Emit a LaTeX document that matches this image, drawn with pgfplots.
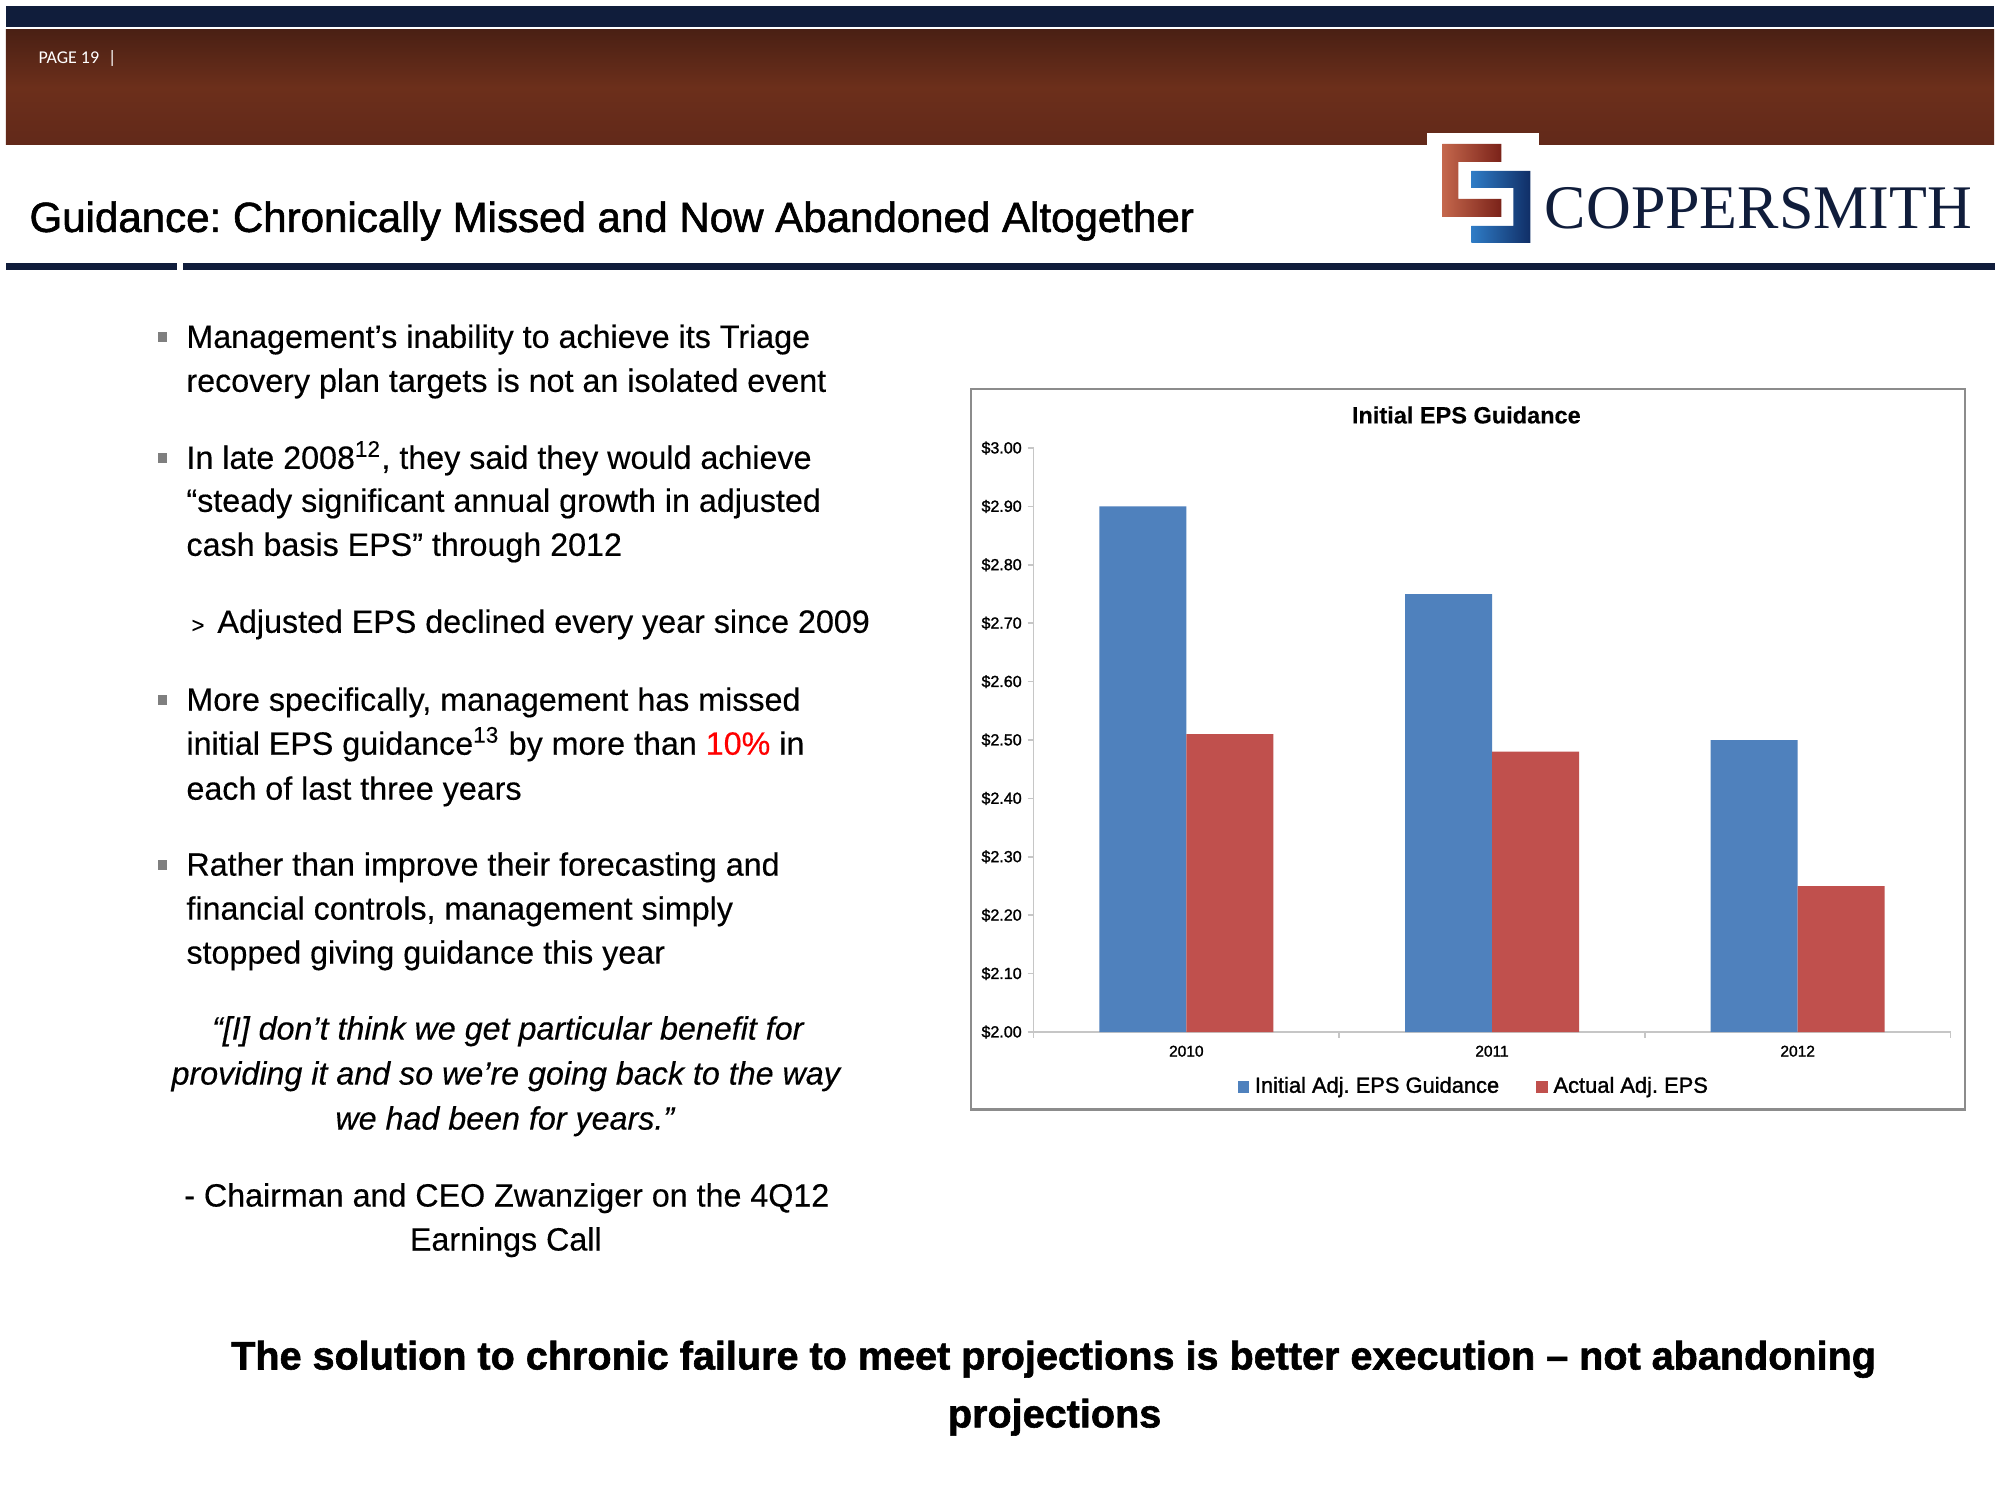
\documentclass[border=0pt]{standalone}
\usepackage{fontspec}
\setmainfont[FakeBold=0.35]{Liberation Sans}
\newfontfamily\serifL{Liberation Serif}
\newfontfamily\carl{Carlito}
\newfontfamily\medfont[FakeBold=1.4]{Liberation Sans}
\newfontfamily\heavyfont[BoldFeatures={FakeBold=1.5}]{Liberation Sans}
\usepackage{pgfplots}
\pgfplotsset{compat=1.18}
\definecolor{navy}{HTML}{101D3B}
\definecolor{barblue}{HTML}{4F81BD}
\definecolor{barred}{HTML}{C0504D}
\definecolor{framegrey}{HTML}{8C8C8C}
\definecolor{bulletgrey}{HTML}{7F7F7F}
\definecolor{copperT}{HTML}{4A2014}
\definecolor{copperM}{HTML}{6C2F1B}
\definecolor{copperB}{HTML}{62291A}
\definecolor{logoCL}{HTML}{C4674C}
\definecolor{logoCD}{HTML}{7A2219}
\definecolor{logoBL}{HTML}{2F7CC6}
\definecolor{logoBD}{HTML}{102E66}
\newcommand\body{\fontsize{11.65}{14}\selectfont}
\frenchspacing
\begin{document}
\frenchspacing
\begin{tikzpicture}
\fill[white] (0,0) rectangle (25.4,-19.05);
\useasboundingbox (0,0) rectangle (25.4,-19.05);
\begin{scope}[x=0.0127cm,y=-0.0127cm]
 % header
 \fill[navy] (6,6) rectangle (1995,27);
 \shade[top color=copperT, bottom color=copperB, middle color=copperM] (6,30) rectangle (1995,145);
 \node[anchor=base west, inner sep=0, text=white] at (38,64) {\carl\fontsize{6.5}{8}\selectfont PAGE 19\enspace|};
 \fill[white] (1428,133) rectangle (1540,146);
 % logo
 \shade[left color=logoCL, right color=logoCD] (1443,144) -- (1502,144) -- (1502,162) -- (1459,162) -- (1459,199) -- (1502,199) -- (1502,217) -- (1443,217) -- cycle;
 \shade[left color=logoBL, right color=logoBD] (1472,171) -- (1531,171) -- (1531,243) -- (1472,243) -- (1472,226) -- (1514,226) -- (1514,188) -- (1472,188) -- cycle;
 \node[anchor=base west, inner sep=0, text=navy] at (1545,229) {\serifL\fontsize{22.4}{24}\selectfont COPPERSMITH};
 % title
 \node[anchor=base west, inner sep=0] at (29,232) {\medfont\fontsize{15.2}{18}\selectfont Guidance: Chronically Missed and Now Abandoned Altogether};
 \fill[navy] (6,263) rectangle (177,270);
 \fill[navy] (183,263) rectangle (1996,270);
 % bullets
 \foreach \b in {348,469,711,876} {\fill[bulletgrey] (158,\b-16) rectangle (167,\b-6);}
 \begin{scope}[every node/.style={anchor=base west, inner sep=0, font=\body}]
 \node at (186,348) {Management’s inability to achieve its Triage};
 \node at (186,392) {recovery plan targets is not an isolated event};
 \node at (186,469) {In late 2008\textsuperscript{12}, they said they would achieve};
 \node at (186,512) {“steady significant annual growth in adjusted};
 \node at (186,556) {cash basis EPS” through 2012};
 \node at (191,633) {\fontsize{8}{9}\selectfont >};
 \node at (217,633) {Adjusted EPS declined every year since 2009};
 \node at (186,711) {More specifically, management has missed};
 \node at (186,755) {initial EPS guidance\textsuperscript{13} by more than \textcolor{red}{10\%} in};
 \node at (186,800) {each of last three years};
 \node at (186,876) {Rather than improve their forecasting and};
 \node at (186,920) {financial controls, management simply};
 \node at (186,964) {stopped giving guidance this year};
 \end{scope}
 \begin{scope}[every node/.style={anchor=base, inner sep=0, font=\body}]
 \node at (508,1040) {\itshape “[I] don’t think we get particular benefit for};
 \node at (506,1085) {\itshape providing it and so we’re going back to the way};
 \node at (505,1130) {\itshape we had been for years.”};
 \node at (507,1207) {- Chairman and CEO Zwanziger on the 4Q12};
 \node at (506,1251) {Earnings Call};
 \end{scope}
 \node[anchor=base, inner sep=0] at (1054,1370) {\heavyfont\bfseries\fontsize{14.3}{17}\selectfont The solution to chronic failure to meet projections is better execution – not abandoning};
 \node[anchor=base, inner sep=0] at (1055,1428) {\heavyfont\bfseries\fontsize{14.3}{17}\selectfont projections};
 % chart frame
 \draw[framegrey, line width=0.8pt] (971,389) rectangle (1966,1110);
\end{scope}
\begin{axis}[
  at={(13.1255cm,-13.1064cm)}, anchor=south west,
  scale only axis, width=11.6459cm, height=7.4168cm,
  clip=false,
  ybar=0pt, bar width=1.1049cm,
  xmin=-0.5, xmax=2.5, ymin=2, ymax=3,
  axis x line*=bottom, axis y line*=left,
  axis line style={draw=gray!45, line width=0.6pt, -},
  xtick pos=bottom, ytick pos=left,
  xtick={-0.5,0.5,1.5,2.5}, xticklabels={},
  extra x ticks={0,1,2}, extra x tick labels={2010,2011,2012},
  extra x tick style={major tick length=0pt},
  ytick={2.0,2.1,2.2,2.3,2.4,2.5,2.6,2.7,2.8,2.9,3.0},
  yticklabels={\$2.00,\$2.10,\$2.20,\$2.30,\$2.40,\$2.50,\$2.60,\$2.70,\$2.80,\$2.90,\$3.00},
  tick style={draw=gray!45, line width=0.6pt},
  major tick length=0.076cm, tick align=outside,
  yticklabel style={font=\medfont\fontsize{5.8}{7}\selectfont, xshift=0.05cm},
  xticklabel style={font=\medfont\fontsize{5.6}{7}\selectfont, yshift=-0.05cm},
  legend style={at={(0.482,-0.094)}, anchor=center, draw=none, fill=none, legend columns=2,
    font=\medfont\fontsize{7.9}{9}\selectfont, /tikz/every even column/.append style={column sep=0.4cm}},
  legend image code/.code={\fill[#1] (0cm,-0.075cm) rectangle (0.15cm,0.075cm);},
]
\addplot[fill=barblue, draw=none] coordinates {(0,2.90) (1,2.75) (2,2.50)};
\addplot[fill=barred, draw=none] coordinates {(0,2.51) (1,2.48) (2,2.25)};
\legend{Initial Adj. EPS Guidance, Actual Adj. EPS}
\node[font=\bfseries\fontsize{8.5}{10}\selectfont, anchor=center, inner sep=0] at (rel axis cs:0.472,1.0565) {Initial EPS Guidance};
\end{axis}
\end{tikzpicture}
\end{document}
